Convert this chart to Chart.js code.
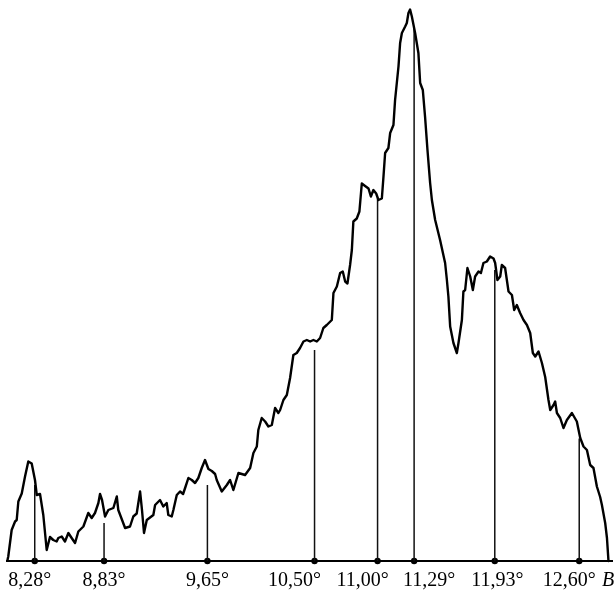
<!DOCTYPE html>
<html><head><meta charset="utf-8">
<script src="https://cdn.jsdelivr.net/npm/chart.js@4.4.1/dist/chart.umd.min.js"></script>
<style>html,body{margin:0;padding:0;background:#fff}#wrap{width:616px;height:595px}</style>
</head><body><div id="wrap"><canvas id="c" width="616" height="595"></canvas></div>
<script>
// Spectrum trace: angle (degrees) and relative intensity
const curveX = [
8.064, 8.070, 8.097, 8.124, 8.137, 8.150, 8.177, 8.203, 8.229, 8.256,
8.282, 8.296, 8.322, 8.348, 8.375, 8.401, 8.427, 8.454, 8.467, 8.494,
8.520, 8.547, 8.573, 8.600, 8.626, 8.666, 8.705, 8.732, 8.758, 8.785,
8.798, 8.814, 8.838, 8.864, 8.904, 8.931, 8.943, 8.973, 8.997, 9.036,
9.062, 9.089, 9.116, 9.131, 9.147, 9.169, 9.221, 9.235, 9.274, 9.300,
9.327, 9.340, 9.367, 9.380, 9.407, 9.433, 9.457, 9.473, 9.499, 9.526,
9.552, 9.578, 9.605, 9.631, 9.658, 9.685, 9.711, 9.724, 9.764, 9.804,
9.830, 9.856, 9.896, 9.949, 9.989, 10.015, 10.042, 10.054, 10.081, 10.108,
10.134, 10.161, 10.187, 10.213, 10.227, 10.253, 10.280, 10.306, 10.332, 10.359,
10.385, 10.412, 10.439, 10.465, 10.491, 10.518, 10.544, 10.570, 10.597, 10.637,
10.650, 10.677, 10.703, 10.724, 10.743, 10.761, 10.782, 10.796, 10.808, 10.835,
10.856, 10.875, 10.901, 10.928, 10.947, 10.967, 10.989, 11.007, 11.034, 11.047,
11.060, 11.086, 11.100, 11.126, 11.139, 11.166, 11.179, 11.193, 11.219, 11.232,
11.245, 11.258, 11.272, 11.298, 11.324, 11.338, 11.359, 11.377, 11.396, 11.417,
11.431, 11.457, 11.496, 11.536, 11.550, 11.562, 11.576, 11.602, 11.629, 11.642,
11.669, 11.681, 11.695, 11.713, 11.735, 11.756, 11.774, 11.801, 11.820, 11.840,
11.867, 11.893, 11.920, 11.933, 11.951, 11.973, 11.986, 12.012, 12.039, 12.066,
12.084, 12.105, 12.131, 12.158, 12.185, 12.211, 12.232, 12.251, 12.277, 12.304,
12.330, 12.356, 12.370, 12.396, 12.409, 12.423, 12.449, 12.475, 12.502, 12.542,
12.581, 12.608, 12.634, 12.661, 12.687, 12.713, 12.740, 12.766, 12.780, 12.806,
12.820, 12.832
];
const curveY = [
0.2, 0.9, 6.2, 7.9, 8.2, 11.9, 13.5, 16.9, 19.9, 19.5,
16.2, 13.2, 13.4, 9.2, 2.2, 4.8, 4.2, 3.9, 4.6, 4.9,
3.9, 5.6, 4.6, 3.6, 5.9, 6.9, 9.6, 8.6, 9.6, 11.6,
13.4, 12.2, 8.9, 10.2, 10.6, 12.9, 10.2, 8.2, 6.6, 6.9,
8.9, 9.5, 13.9, 10.2, 5.6, 8.2, 9.2, 11.2, 12.2, 10.9,
11.6, 9.2, 8.9, 10.2, 13.2, 13.9, 13.4, 14.6, 16.6, 16.2,
15.6, 16.6, 18.6, 20.2, 18.4, 18.0, 17.4, 16.2, 13.9, 15.2,
16.2, 14.2, 17.6, 17.2, 18.6, 21.6, 22.9, 26.2, 28.6, 27.9,
26.9, 27.2, 30.6, 29.6, 30.2, 32.2, 33.2, 36.6, 41.2, 41.6,
42.6, 43.9, 44.2, 43.9, 44.2, 43.9, 44.6, 46.6, 47.2, 48.2,
53.6, 54.9, 57.6, 57.9, 55.9, 55.5, 59.2, 62.2, 67.9, 68.5,
69.9, 75.5, 75.0, 74.5, 72.9, 74.2, 73.5, 72.2, 72.5, 76.9,
81.6, 82.6, 85.6, 87.2, 92.2, 98.9, 103.6, 105.6, 106.9, 107.6,
109.6, 110.3, 108.9, 105.6, 101.6, 95.6, 94.2, 88.8, 82.2, 75.6,
72.2, 68.2, 64.2, 59.6, 56.2, 52.9, 46.9, 43.6, 41.6, 43.6,
48.2, 53.9, 54.2, 58.6, 56.9, 54.2, 56.9, 57.9, 57.6, 59.6,
59.9, 60.9, 60.5, 59.6, 56.2, 56.9, 59.2, 58.6, 53.9, 53.2,
50.2, 51.2, 49.6, 48.2, 47.2, 45.6, 41.6, 40.9, 41.9, 39.6,
36.8, 32.2, 30.2, 31.2, 31.9, 29.6, 28.6, 26.6, 28.2, 29.6,
27.9, 24.6, 22.9, 22.2, 19.2, 18.6, 14.9, 12.8, 11.2, 7.6,
4.6, 0
];
// Marked peak positions, heights of their marker lines, and labels
const markX = [8.28, 8.83, 9.65, 10.50, 11.00, 11.29, 11.93, 12.60];
const markTop = [15.2, 7.6, 15.2, 42.2, 72.5, 106.5, 58.2, 24.5];
const markLabels = ['8,28°', '8,83°', '9,65°', '10,50°', '11,00°', '11,29°', '11,93°', '12,60°'];
// label placement as in the original print: no-break spaces before (+) / after (-) each label
const labelNudge = [-2, 0, 0, -8, -6, 6, 1, -4];
const axisLetter = 'B';

const FONT = '"Liberation Serif", "Times New Roman", serif';
const NB = '\u00A0';
const nudged = markLabels.map((t, i) => {
  const n = labelNudge[i];
  return n > 0 ? NB.repeat(n) + t : t + NB.repeat(-n);
});

const datasets = [];
datasets.push({
  data: curveX.map((x, i) => ({x: x, y: curveY[i]})),
  showLine: true, borderColor: '#000', borderWidth: 2.4, pointRadius: 0,
  tension: 0, borderJoinStyle: 'round', borderCapStyle: 'round', clip: false
});
markX.forEach((x, i) => {
  datasets.push({
    data: [{x: x, y: 0}, {x: x, y: markTop[i]}],
    showLine: true, borderColor: '#111', borderWidth: 1.5, pointRadius: 0, clip: false
  });
});
datasets.push({
  data: markX.map(x => ({x: x, y: 0})),
  showLine: false, pointRadius: 3.2, pointBackgroundColor: '#000', pointBorderWidth: 0, clip: false
});

// Axis variable letter drawn after the last tick label, on the same text line
const axisLetterPlugin = {
  id: 'axisLetter',
  afterDraw(chart) {
    const xs = chart.scales.x;
    const ctx = chart.ctx;
    let y = xs.top + 8, baseline = 'top';
    if (typeof xs.getLabelItems === 'function') {
      const items = xs.getLabelItems(chart.chartArea);
      if (items && items.length) {
        const it = items[items.length - 1];
        y = it.options.translation[1] + (it.textOffset || 0);
        baseline = it.options.textBaseline || 'top';
      }
    }
    ctx.save();
    ctx.font = 'italic 20px ' + FONT;
    ctx.fillStyle = '#000';
    ctx.textAlign = 'left';
    ctx.textBaseline = baseline;
    ctx.fillText(axisLetter, xs.right - 10, y);
    ctx.restore();
  }
};

new Chart(document.getElementById('c'), {
  type: 'scatter',
  data: {datasets: datasets},
  plugins: [axisLetterPlugin],
  options: {
    responsive: false, animation: false,
    layout: {padding: {left: 7, right: 0, top: 6, bottom: 2}},
    plugins: {legend: {display: false}, tooltip: {enabled: false}},
    scales: {
      x: {
        type: 'linear', min: 8.06, max: 12.86,
        grid: {display: false, drawTicks: true, tickLength: 8},
        border: {display: true, color: '#000', width: 2},
        afterBuildTicks: s => { s.ticks = markX.map(v => ({value: v})); },
        ticks: {
          autoSkip: false, maxRotation: 0, minRotation: 0, padding: 0, color: '#000',
          font: {family: FONT, size: 20},
          callback: (v, i) => nudged[i]
        }
      },
      y: {display: false, min: 0, max: 111}
    }
  }
});
</script>
</body></html>
